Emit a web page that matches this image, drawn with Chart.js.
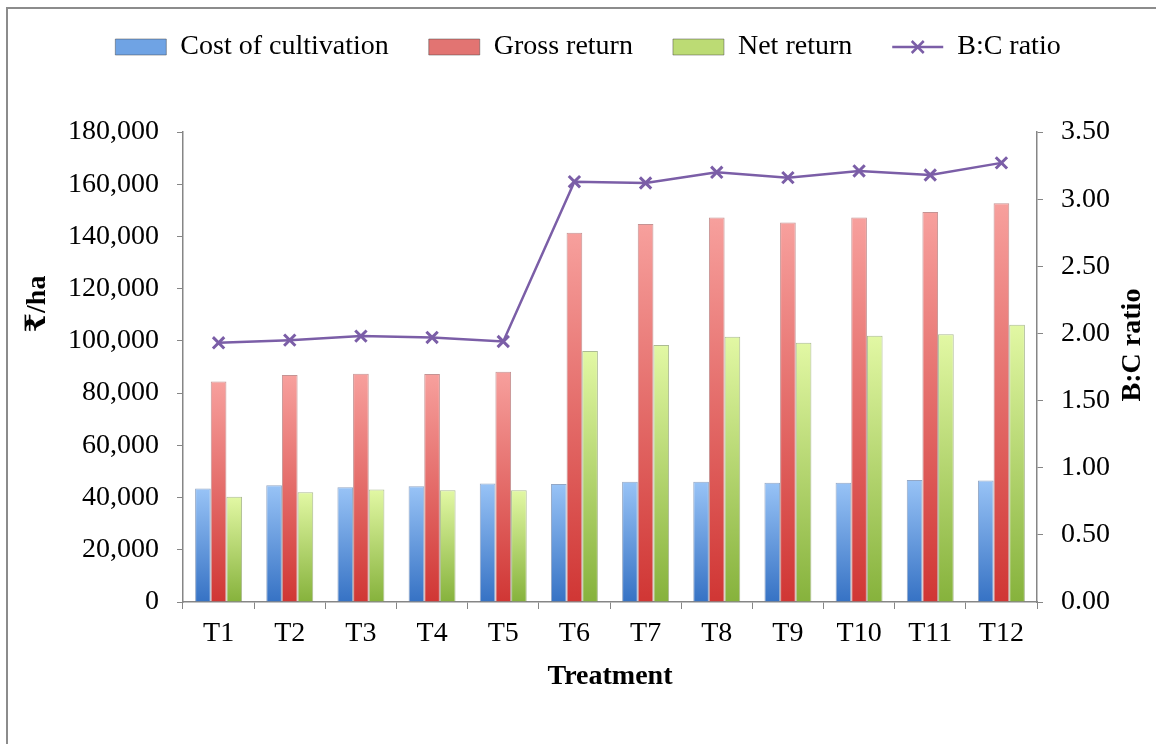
<!DOCTYPE html>
<html>
<head>
<meta charset="utf-8">
<script src="https://cdn.jsdelivr.net/npm/chart.js@4.4.1/dist/chart.umd.min.js"></script>
<style>
  html, body { margin: 0; padding: 0; background: #fff; overflow: hidden; }
  #frame { position: absolute; left: 6px; top: 7px; width: 1300px; height: 900px;
           border-left: 2px solid #8c8c8c; border-top: 2px solid #8c8c8c; }
  #wrap { position: absolute; left: 0; top: 0; width: 1156px; height: 744px; }
</style>
</head>
<body>
<div id="frame"></div>
<div id="wrap"><canvas id="bc-chart" width="1156" height="744"></canvas></div>
<script>
const treatments = ["T1", "T2", "T3", "T4", "T5", "T6", "T7", "T8", "T9", "T10", "T11", "T12"];
const costOfCultivation = [43500, 44700, 43900, 44300, 45400, 45200, 46100, 46100, 45700, 45700, 46700, 46500];
const grossReturn = [84400, 86900, 87400, 87300, 88200, 141400, 144800, 147300, 145300, 147300, 149400, 152700];
const netReturn = [40300, 42000, 43100, 42800, 42800, 96100, 98400, 101600, 99300, 102000, 102500, 106200];
const bcRatio = [1.93, 1.95, 1.98, 1.97, 1.94, 3.13, 3.12, 3.20, 3.16, 3.21, 3.18, 3.27];

const FONT = "'Liberation Serif', 'Times New Roman', 'DejaVu Serif', serif";
const LINE_COLOR = "#7b5ea7";
const LEGEND_FILLS = ["#6fa3e4", "#e27472", "#bcdb74"];

// light at the top of each bar, darker at the base
function barFill(top, bottom) {
  return function (c) {
    const y = c.chart.scales && c.chart.scales.y;
    if (c.raw === undefined || !y) return bottom;
    const y0 = y.getPixelForValue(0);
    const y1 = y.getPixelForValue(c.raw);
    if (!isFinite(y0) || !isFinite(y1) || y0 === y1) return bottom;
    const g = c.chart.ctx.createLinearGradient(0, y1, 0, y0);
    g.addColorStop(0, top);
    g.addColorStop(1, bottom);
    return g;
  };
}

// y axis titles (drawn reading upward on both sides) + legend line marker
const extras = {
  id: "extras",
  afterDraw(chart) {
    const ctx = chart.ctx;
    ctx.save();
    ctx.fillStyle = "#000";
    ctx.font = "bold 28px " + FONT;
    ctx.textAlign = "center";
    ctx.textBaseline = "middle";
    ctx.translate(38, 304);
    ctx.rotate(-Math.PI / 2);
    ctx.fillText("₹/ha", 0, 0);
    ctx.restore();

    ctx.save();
    ctx.fillStyle = "#000";
    ctx.font = "bold 28px " + FONT;
    ctx.textAlign = "center";
    ctx.textBaseline = "middle";
    ctx.translate(1133, 345);
    ctx.rotate(-Math.PI / 2);
    ctx.fillText("B:C ratio", 0, 0);
    ctx.restore();

    const lg = chart.legend;
    const i = lg.legendItems.findIndex((it) => it.datasetIndex === 3);
    if (i < 0) return;
    const hb = lg.legendHitBoxes[i];
    const cy = hb.top + hb.height / 2;
    ctx.save();
    ctx.strokeStyle = LINE_COLOR;
    ctx.lineWidth = 2.5;
    ctx.beginPath();
    ctx.moveTo(hb.left, cy);
    ctx.lineTo(hb.left + 51, cy);
    ctx.stroke();
    const cx = hb.left + 25.5, r = 6;
    ctx.beginPath();
    ctx.moveTo(cx - r, cy - r); ctx.lineTo(cx + r, cy + r);
    ctx.moveTo(cx + r, cy - r); ctx.lineTo(cx - r, cy + r);
    ctx.stroke();
    ctx.restore();
  },
};

const data = {
  labels: treatments,
  datasets: [
    {
      label: "Cost of cultivation",
      data: costOfCultivation,
      backgroundColor: barFill("#98c3f6", "#3672c4"),
      borderColor: "rgba(40,80,140,0.5)",
      borderWidth: 1,
      yAxisID: "y",
      order: 1,
    },
    {
      label: "Gross return",
      data: grossReturn,
      backgroundColor: barFill("#f7a09d", "#d03634"),
      borderColor: "rgba(140,40,40,0.5)",
      borderWidth: 1,
      yAxisID: "y",
      order: 1,
    },
    {
      label: "Net return",
      data: netReturn,
      backgroundColor: barFill("#e2f8a4", "#86b23c"),
      borderColor: "rgba(90,120,40,0.5)",
      borderWidth: 1,
      yAxisID: "y",
      order: 1,
    },
    {
      type: "line",
      label: "B:C ratio",
      data: bcRatio,
      borderColor: LINE_COLOR,
      backgroundColor: LINE_COLOR,
      borderWidth: 2.5,
      pointStyle: "crossRot",
      pointRadius: 8,
      pointBorderWidth: 3,
      pointBorderColor: LINE_COLOR,
      tension: 0,
      yAxisID: "y1",
      order: -1,
    },
  ],
};

const tickFont = { family: FONT, size: 28 };

const config = {
  type: "bar",
  data: data,
  plugins: [extras],
  options: {
    responsive: false,
    animation: false,
    layout: { padding: { top: -7, left: 20, right: 0, bottom: 0 } },
    datasets: { bar: { barPercentage: 1.0, categoryPercentage: 0.66 } },
    plugins: {
      tooltip: { enabled: false },
      legend: {
        position: "top",
        labels: {
          color: "#000",
          font: tickFont,
          boxWidth: 51,
          boxHeight: 16,
          padding: 40,
          sort: (a, b) => a.datasetIndex - b.datasetIndex,
          generateLabels(chart) {
            const items = Chart.defaults.plugins.legend.labels.generateLabels(chart);
            items.forEach((it) => {
              if (it.datasetIndex === 3) {
                it.fillStyle = "rgba(0,0,0,0)";
                it.strokeStyle = "rgba(0,0,0,0)";
                it.lineWidth = 0;
              } else {
                it.fillStyle = LEGEND_FILLS[it.datasetIndex];
                it.strokeStyle = "rgba(60,60,60,0.45)";
                it.lineWidth = 1;
              }
            });
            return items;
          },
        },
      },
    },
    scales: {
      x: {
        grid: { display: true, drawOnChartArea: false, drawTicks: true, tickLength: 7, color: "#868686", offset: true },
        border: { color: "#868686", width: 1.5 },
        ticks: { color: "#000", font: tickFont, padding: 8 },
        title: { display: true, text: "Treatment", color: "#000", font: { family: FONT, size: 28, weight: "bold" }, padding: { top: 0, bottom: 50 } },
        afterFit(s) { s.height = 142; },
      },
      top: {
        type: "category",
        position: "top",
        display: true,
        grid: { display: false },
        border: { display: false },
        ticks: { display: false },
        afterFit(s) { s.height = Math.max(0, 139 - s.chart.legend.height); },
      },
      y: {
        position: "left",
        min: 0,
        max: 180000,
        grid: { display: true, drawOnChartArea: false, drawTicks: true, tickLength: 6, color: "#868686" },
        border: { color: "#868686", width: 1.5 },
        ticks: {
          stepSize: 20000,
          color: "#000",
          font: tickFont,
          padding: 18,
          callback: (v) => v.toLocaleString("en-US"),
        },
        afterFit(s) { s.width = 163; },
      },
      y1: {
        position: "right",
        min: 0,
        max: 3.5,
        grid: { display: true, drawOnChartArea: false, drawTicks: true, tickLength: 6, color: "#868686" },
        border: { color: "#868686", width: 1.5 },
        ticks: {
          stepSize: 0.5,
          color: "#000",
          font: tickFont,
          padding: 18,
          callback: (v) => v.toFixed(2),
        },
        afterFit(s) { s.width = 119; },
      },
    },
  },
};

var ctx = document.getElementById("bc-chart").getContext("2d");
var myChart = new Chart(ctx, config);
</script>
</body>
</html>
